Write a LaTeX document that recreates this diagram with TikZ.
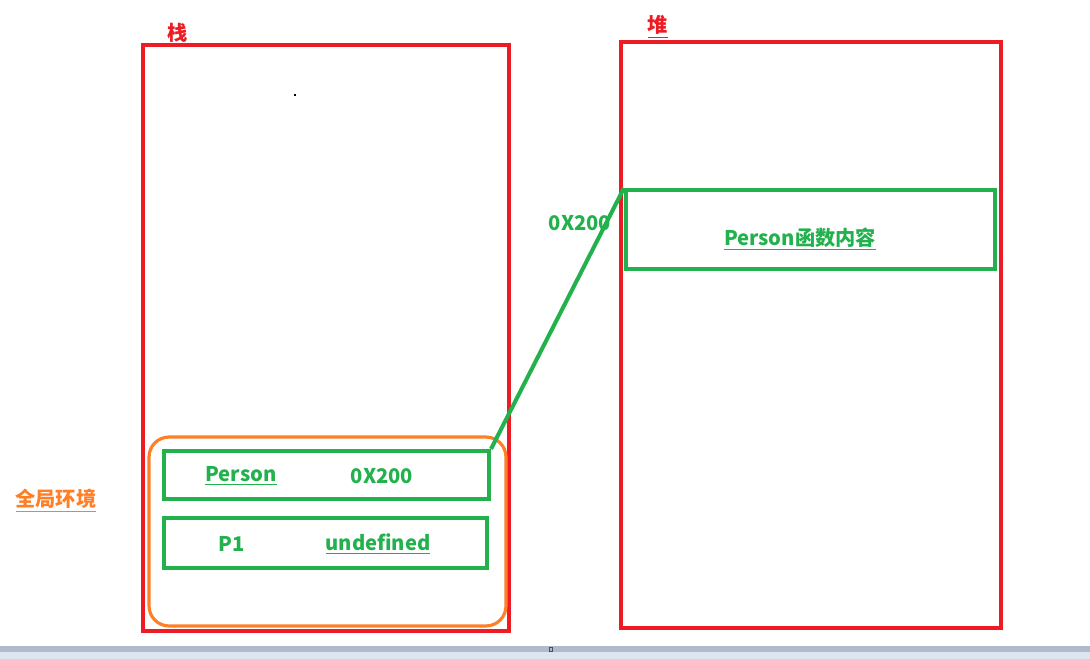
\documentclass[tikz,border=0pt]{standalone}
\usepackage{fontspec}
\setmainfont{Noto Sans CJK SC}
\usetikzlibrary{positioning}
\definecolor{memred}{HTML}{ED1C24}
\definecolor{slotgreen}{HTML}{22B14C}
\definecolor{envorange}{HTML}{FF7F27}
\definecolor{bartop}{HTML}{AEBBCC}
\definecolor{barbot}{HTML}{DCE5F0}
\begin{document}
\begin{tikzpicture}[x=0.02cm,y=-0.02cm,
    mem/.style={draw=memred,line width=2.3pt,inner sep=0pt},
    slot/.style={draw=slotgreen,line width=2.3pt,inner sep=0pt},
    env/.style={draw=envorange,line width=1.8pt,rounded corners=0.4cm,inner sep=0pt},
    lbl/.style={text=slotgreen,font=\bfseries\fontsize{11.5}{14}\selectfont,inner sep=0pt},
    title/.style={text=memred,font=\bfseries\fontsize{11.5}{14}\selectfont,inner sep=0pt}]
  \useasboundingbox (0,0) rectangle (1090,659);
  % memory areas
  \node[mem,minimum width=7.32cm,minimum height=11.72cm] (stack) at (326,338) {};
  \node[mem,minimum width=7.6cm,minimum height=11.72cm] (heap) at (811,335) {};
  \node[title] (stacktitle) at (178,33) {栈};
  \node[title] (heaptitle) at (658,27) {\underline{堆}};
  \fill (294,94) rectangle (296,96);
  % global environment
  \node[env,minimum width=7.14cm,minimum height=3.78cm] (global) at (327.5,531.5) {};
  \node[text=envorange,font=\bfseries\fontsize{11.5}{14}\selectfont,inner sep=0pt] (globaltitle) at (56,501) {\underline{全局环境}};
  \node[slot,minimum width=6.5cm,minimum height=0.96cm] (personslot) at (326.5,475) {};
  \node[slot,minimum width=6.46cm,minimum height=1cm] (pslot) at (325.5,543) {};
  \node[lbl] (personname) at (241,476) {\underline{Person}};
  \node[lbl] (personaddr) at (382,476) {0X200};
  \node[lbl] (pname) at (232,544) {P1};
  \node[lbl] (pvalue) at (378,544) {\underline{undefined}};
  % heap object
  \node[slot,minimum width=7.38cm,minimum height=1.58cm] (personobj) at (810.5,229.5) {};
  \node[lbl] (objbody) at (800,239) {\underline{Person函数内容}};
  \node[lbl] (objaddr) at (580,223) {0X200};
  \draw[draw=slotgreen,line width=2.3pt] (personslot.north east) -- (personobj.north west);
  % status bar
  \fill[bartop] (0,646) rectangle (1090,652);
  \fill[barbot] (0,652) rectangle (1090,659);
  \draw[black!70,line width=0.4pt] (549,647) rectangle (552,651);
\end{tikzpicture}
\end{document}
